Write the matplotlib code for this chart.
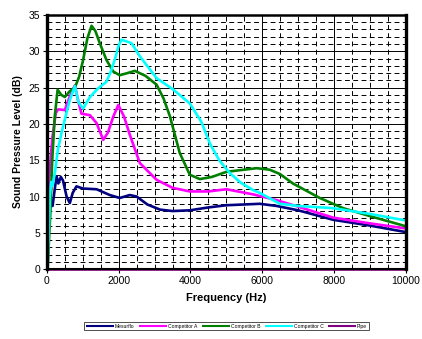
import matplotlib
matplotlib.use("Agg")
import matplotlib.pyplot as plt
from matplotlib.ticker import MultipleLocator

plt.rcParams['font.family'] = ['Liberation Sans', 'DejaVu Sans']

# frequency (Hz) / level (dB)
mesurflo_f = [20, 50, 110, 160, 220, 270, 320, 390, 450, 550, 640, 720, 825, 1010, 1385,
              1755, 2030, 2310, 2500, 2800, 3150, 3500, 3980, 4500, 5000, 5930, 6400,
              7000, 7970, 9000, 10000]
mesurflo_db = [0, 10.5, 9.5, 8.7, 11.0, 12.8, 11.8, 12.7, 12.2, 10.0, 9.1, 10.5, 11.4, 11.1, 11.0,
               10.2, 9.8, 10.2, 10.0, 8.9, 8.2, 8.0, 8.1, 8.5, 8.8, 9.0, 8.7,
               8.1, 6.8, 6.0, 5.1]

comp_a_f = [10, 40, 150, 250, 315, 500, 640, 780, 880, 965, 1200, 1385, 1570, 1700, 1850,
            1990, 2150, 2310, 2590, 3055, 3500, 3980, 4500, 5000, 5740, 6400, 7000,
            7970, 9000, 10000]
comp_a_db = [0, 11.0, 18.0, 21.5, 22.0, 21.9, 23.8, 25.3, 23.0, 21.4, 21.2, 20.1, 17.8, 18.8, 21.0,
             22.6, 21.0, 18.5, 14.6, 12.3, 11.2, 10.7, 10.7, 11.0, 10.3, 9.5, 8.6,
             7.1, 6.3, 5.6]

comp_b_f = [20, 100, 150, 220, 300, 400, 500, 640, 780, 900, 1010, 1130, 1245, 1350, 1475,
            1660, 1850, 2030, 2250, 2450, 2750, 3055, 3250, 3430, 3700, 3980, 4260,
            4600, 5000, 5840, 6200, 6490, 6850, 7600, 8250, 9000, 10000]
comp_b_db = [0, 8.0, 15.0, 21.0, 24.7, 24.0, 23.7, 24.5, 25.0, 26.5, 28.8, 31.8, 33.5, 32.8, 31.1,
             28.8, 27.2, 26.7, 27.0, 27.3, 26.6, 25.4, 23.5, 21.0, 16.0, 13.0, 12.4,
             12.7, 13.4, 13.9, 13.7, 13.1, 11.8, 9.8, 8.4, 7.3, 5.9]

comp_c_f = [20, 60, 85, 120, 160, 230, 310, 410, 520, 640, 780, 880, 1010, 1200, 1430,
            1660, 1780, 1890, 2000, 2080, 2360, 2590, 3055, 3500, 3983, 4300, 4540,
            4800, 5100, 5400, 5740, 5930, 6490, 7000, 7970, 9000, 10000]
comp_c_db = [0, 6.0, 10.0, 12.0, 11.5, 13.5, 16.5, 18.8, 21.0, 23.3, 25.2, 23.0, 22.1, 23.7, 24.9,
             25.8, 27.2, 28.8, 30.8, 31.6, 31.1, 29.3, 26.3, 24.8, 22.8, 20.3, 17.3,
             15.0, 13.2, 11.9, 10.9, 10.5, 9.0, 8.7, 8.4, 7.6, 6.7]

pipe_f = [0, 10000]
pipe_db = [0, 0]

series = [
    ('Mesurflo', mesurflo_f, mesurflo_db, '#000080'),
    ('Competitor A', comp_a_f, comp_a_db, '#FF00FF'),
    ('Competitor B', comp_b_f, comp_b_db, '#008000'),
    ('Competitor C', comp_c_f, comp_c_db, '#00FFFF'),
    ('Pipe', pipe_f, pipe_db, '#800080'),
]

fig = plt.figure(figsize=(4.22, 3.39), dpi=100)
ax = fig.add_axes([0.111, 0.206, 0.851, 0.750])

# grid: solid major, dashed minor
ax.xaxis.set_major_locator(MultipleLocator(2000))
ax.xaxis.set_minor_locator(MultipleLocator(500))
ax.yaxis.set_major_locator(MultipleLocator(5))
ax.yaxis.set_minor_locator(MultipleLocator(1))
ax.grid(which='major', color='black', linewidth=0.7, linestyle='-')
ax.grid(which='minor', color='black', linewidth=0.7, linestyle=(0, (5, 3.5)))
ax.set_axisbelow(True)

for name, f, db, col in series:
    ax.plot(f, db, color=col, linewidth=1.9, label=name, solid_capstyle='butt',
            clip_on=False if name == 'Pipe' else True)

ax.set_xlim(0, 10000)
ax.set_ylim(0, 35)

for side in ['left', 'right']:
    ax.spines[side].set_linewidth(2.4)
ax.spines['top'].set_linewidth(1.8)
ax.spines['bottom'].set_linewidth(1.5)

ax.tick_params(which='minor', length=0)
ax.tick_params(which='major', labelsize=7.5, length=3, width=0.8, pad=2)

ax.set_xlabel('Frequency (Hz)', fontsize=8, fontweight='bold', labelpad=5)
ax.set_ylabel('Sound Pressure Level (dB)', fontsize=7.5, fontweight='bold', labelpad=4)

leg = fig.legend(loc='center', bbox_to_anchor=(0.537, 0.038), ncol=5, fontsize=3.6,
                 frameon=True, fancybox=False, edgecolor='black', handlelength=5.5,
                 handletextpad=0.2, columnspacing=1.0, borderpad=0.35, borderaxespad=0)
leg.get_frame().set_linewidth(0.6)
for line in leg.get_lines():
    line.set_linewidth(1.5)

fig.savefig('out.png', dpi=100)
